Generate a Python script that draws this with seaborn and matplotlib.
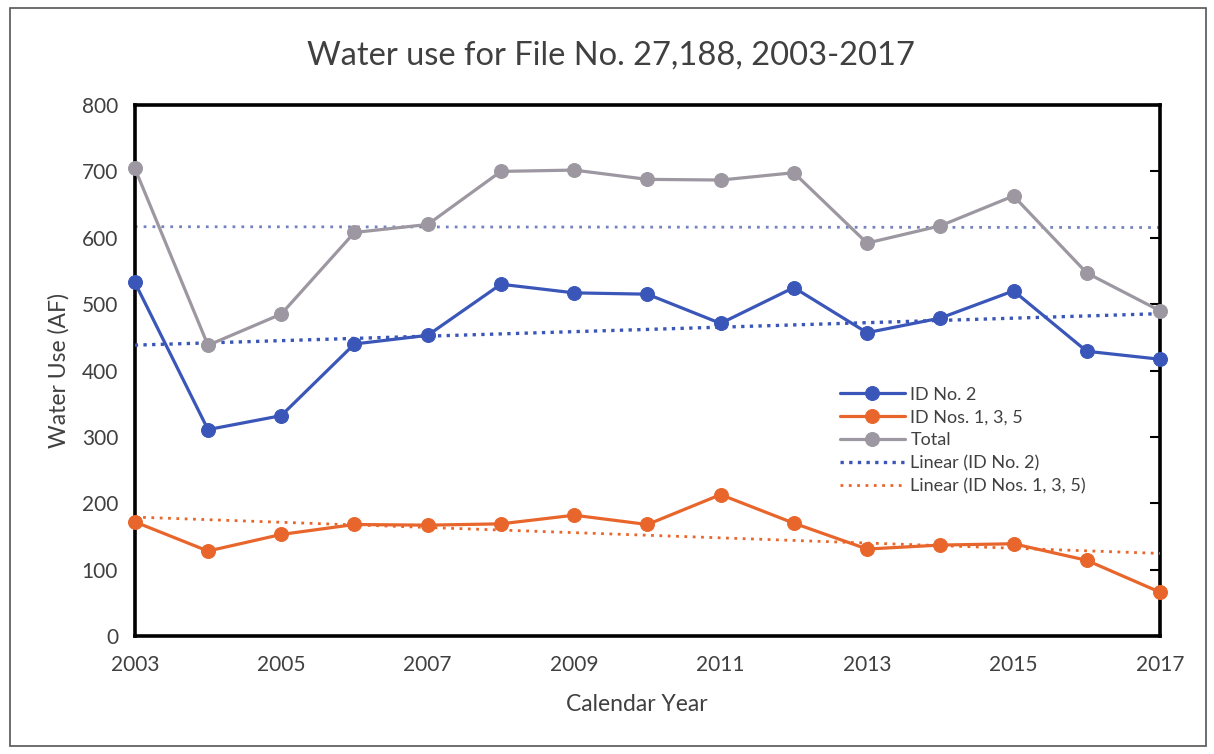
import matplotlib
matplotlib.use("Agg")
import matplotlib.pyplot as plt
import seaborn as sns
import pandas as pd
from matplotlib.patches import Rectangle

# ── Data ────────────────────────────────────────────────────────────────────
years = [2003, 2004, 2005, 2006, 2007, 2008, 2009, 2010,
         2011, 2012, 2013, 2014, 2015, 2016, 2017]
id_no_2 = [533, 311, 332, 440, 453, 530, 517, 515,
           471, 525, 457, 479, 520, 429, 417]
id_nos_135 = [172, 128, 153, 168, 167, 169, 182, 168,
              213, 170, 131, 137, 139, 114, 66]
total = [705, 438, 485, 608, 620, 700, 702, 688,
         687, 698, 592, 618, 663, 547, 490]

xticks = [2003, 2005, 2007, 2009, 2011, 2013, 2015, 2017]
yticks = [0, 100, 200, 300, 400, 500, 600, 700, 800]
legend_order = ["ID No. 2", "ID Nos. 1, 3, 5", "Total",
                "Linear (ID No. 2)", "Linear (ID Nos. 1, 3, 5)"]

BLUE = "#3A56B8"
ORANGE = "#E8662B"
GRAY = "#9C97A0"
TREND_TOTAL = "#7482C0"
TEXT = "#404040"

df = pd.DataFrame({"year": years, "id2": id_no_2, "id135": id_nos_135, "total": total})

sns.set_style("white")
plt.rcParams["font.family"] = ["Lato", "DejaVu Sans"]

fig = plt.figure(figsize=(12.14, 7.54), dpi=100)
ax = fig.add_axes([0.111, 0.1565, 0.8445, 0.7042])

line_style = dict(marker="o", markersize=10, linewidth=2.3, clip_on=False, zorder=4)

# trend line of the total (not shown in the legend)
sns.regplot(data=df, x="year", y="total", scatter=False, ci=None, ax=ax,
            label="_nolegend_",
            line_kws=dict(color=TREND_TOTAL, linestyle=(0, (1, 2.2)), linewidth=2.0, zorder=2))

sns.lineplot(data=df, x="year", y="id2", color=BLUE, ax=ax, label="ID No. 2",
             markeredgecolor=BLUE, **line_style)
sns.lineplot(data=df, x="year", y="id135", color=ORANGE, ax=ax, label="ID Nos. 1, 3, 5",
             markeredgecolor=ORANGE, **line_style)
sns.lineplot(data=df, x="year", y="total", color=GRAY, ax=ax, label="Total",
             markeredgecolor=GRAY, **line_style)

sns.regplot(data=df, x="year", y="id2", scatter=False, ci=None, ax=ax,
            label="Linear (ID No. 2)",
            line_kws=dict(color=BLUE, linestyle=(0, (1, 1.6)), linewidth=2.4, zorder=3))
sns.regplot(data=df, x="year", y="id135", scatter=False, ci=None, ax=ax,
            label="Linear (ID Nos. 1, 3, 5)",
            line_kws=dict(color=ORANGE, linestyle=(0, (1, 2.0)), linewidth=2.0, zorder=3))

ax.set_xlim(2003, 2017)
ax.set_ylim(0, 800)
ax.set_xticks(xticks)
ax.set_yticks(yticks)
ax.set_xticklabels([str(y) for y in xticks])
ax.tick_params(axis="both", direction="in", length=7, width=1.5, colors="black",
               labelcolor=TEXT, labelsize=15)
ax.tick_params(axis="y", right=True, pad=12)
ax.tick_params(axis="x", pad=14)

for side in ["left", "right", "top", "bottom"]:
    ax.spines[side].set_visible(True)
    ax.spines[side].set_color("black")
    ax.spines[side].set_linewidth(2.6)

ax.set_xlabel("Calendar Year", fontsize=16.5, color=TEXT)
ax.set_ylabel("Water Use (AF)", fontsize=16.5, color=TEXT)
ax.xaxis.set_label_coords(0.49, -0.11)
ax.yaxis.set_label_coords(-0.064, 0.5)

fig.text(0.503, 0.927, "Water use for File No. 27,188, 2003-2017",
         ha="center", va="center", fontsize=23.5, color=TEXT)

handles, labels = ax.get_legend_handles_labels()
lookup = dict(zip(labels, handles))
ax.legend([lookup[k] for k in legend_order], legend_order,
          loc="upper left", bbox_to_anchor=(0.672, 0.5),
          frameon=False, fontsize=13, handlelength=3.6, handletextpad=0.3,
          labelspacing=0.38, labelcolor=TEXT)

# outer chart border
fig.patches.append(Rectangle((0.008, 0.01), 0.985, 0.979, transform=fig.transFigure,
                             fill=False, edgecolor="#555555", linewidth=1.2))

fig.savefig("out.png", dpi=100, facecolor="white")
